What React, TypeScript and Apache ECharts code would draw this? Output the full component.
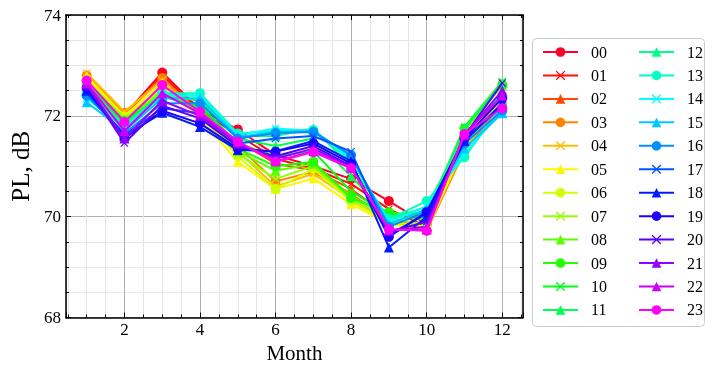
import React, { useEffect, useRef } from "react";
import * as echarts from "echarts";

const months = [1, 2, 3, 4, 5, 6, 7, 8, 9, 10, 11, 12];
const seriesNames = ["00","01","02","03","04","05","06","07","08","09","10","11","12","13","14","15","16","17","18","19","20","21","22","23"];
const markers = ["o","x","^","o","x","^","o","x","^","o","x","^","^","o","x","^","o","x","^","o","x","^","^","o"];

const s00 = [72.70, 72.02, 72.86, 72.12, 71.73, 71.22, 71.00, 70.75, 70.31, 69.85, 71.55, 72.40];
const s01 = [72.72, 72.00, 72.80, 72.10, 71.62, 71.15, 70.95, 70.65, 70.15, 69.80, 71.50, 72.35];
const s02 = [72.75, 72.03, 72.75, 72.05, 71.50, 71.05, 70.92, 70.55, 70.00, 69.75, 71.40, 72.30];
const s03 = [72.80, 72.06, 72.75, 72.05, 71.40, 70.70, 70.89, 70.45, 69.95, 69.72, 71.30, 72.25];
const s04 = [72.85, 72.08, 72.70, 72.00, 71.30, 70.60, 70.85, 70.35, 69.90, 69.75, 71.35, 72.30];
const s05 = [72.78, 72.00, 72.65, 71.95, 71.09, 70.55, 70.76, 70.25, 69.85, 69.75, 71.40, 72.35];
const s06 = [72.72, 71.98, 72.55, 72.00, 71.20, 70.55, 70.95, 70.30, 69.90, 69.80, 71.45, 72.40];
const s07 = [72.68, 71.95, 72.50, 72.05, 71.25, 70.75, 71.00, 70.35, 69.95, 69.85, 71.55, 72.50];
const s08 = [72.65, 71.92, 72.45, 72.10, 71.30, 70.91, 71.05, 70.40, 70.00, 69.95, 71.70, 72.60];
const s09 = [72.62, 71.90, 72.40, 72.15, 71.35, 71.00, 71.09, 70.37, 70.09, 70.00, 71.75, 72.62];
const s10 = [72.60, 71.88, 72.38, 72.20, 71.45, 71.20, 71.30, 70.50, 70.05, 70.05, 71.78, 72.68];
const s11 = [72.55, 71.85, 72.40, 72.30, 71.55, 71.40, 71.55, 70.80, 70.00, 70.10, 71.75, 72.65];
const s12 = [72.50, 71.80, 72.42, 72.40, 71.60, 71.60, 71.75, 71.00, 69.95, 70.20, 71.60, 72.45];
const s13 = [72.45, 71.78, 72.45, 72.45, 71.65, 71.70, 71.72, 71.10, 69.95, 70.31, 71.18, 72.20];
const s14 = [72.35, 71.75, 72.40, 72.40, 71.62, 71.75, 71.70, 71.15, 69.90, 70.20, 71.25, 72.10];
const s15 = [72.27, 71.70, 72.35, 72.35, 71.58, 71.68, 71.70, 71.20, 69.85, 70.15, 71.35, 72.05];
const s16 = [72.40, 71.65, 72.25, 72.25, 71.55, 71.66, 71.68, 71.22, 69.80, 70.10, 71.45, 72.10];
const s17 = [72.45, 71.62, 72.15, 72.05, 71.45, 71.55, 71.60, 71.29, 69.65, 70.05, 71.50, 72.20];
const s18 = [72.50, 71.60, 72.06, 71.78, 71.32, 71.30, 71.50, 71.10, 69.39, 70.00, 71.50, 72.25];
const s19 = [72.55, 71.55, 72.10, 71.85, 71.35, 71.29, 71.45, 71.05, 69.60, 70.09, 71.55, 72.35];
const s20 = [72.60, 71.46, 72.20, 71.95, 71.40, 71.20, 71.40, 71.00, 69.70, 69.90, 71.60, 72.65];
const s21 = [72.62, 71.55, 72.30, 72.00, 71.45, 71.15, 71.35, 70.98, 69.72, 69.80, 71.62, 72.50];
const s22 = [72.65, 71.70, 72.45, 72.05, 71.48, 71.10, 71.30, 70.97, 69.74, 69.75, 71.63, 72.40];
const s23 = [72.70, 71.88, 72.61, 72.08, 71.49, 71.09, 71.28, 70.96, 69.75, 69.72, 71.64, 72.15];

const seriesValues = [s00, s01, s02, s03, s04, s05, s06, s07, s08, s09, s10, s11, s12, s13, s14, s15, s16, s17, s18, s19, s20, s21, s22, s23];

const yTicks = [68, 70, 72, 74];
const xTicks = [2, 4, 6, 8, 10, 12];

// gist_rainbow colormap stops
const rainbowStops: [number, number, number, number][] = [
  [0.0, 1, 0, 0.16],
  [0.03, 1, 0, 0],
  [0.215, 1, 1, 0],
  [0.4, 0, 1, 0],
  [0.586, 0, 1, 1],
  [0.77, 0, 0, 1],
  [0.954, 1, 0, 1],
  [1.0, 1, 0, 0.75],
];
function rainbow(t: number): string {
  for (let i = 1; i < rainbowStops.length; i++) {
    const a = rainbowStops[i - 1];
    const b = rainbowStops[i];
    if (t <= b[0]) {
      const f = (t - a[0]) / (b[0] - a[0]);
      const c = [1, 2, 3].map((k) => Math.round((a[k] + (b[k] - a[k]) * f) * 255));
      return `rgb(${c[0]},${c[1]},${c[2]})`;
    }
  }
  return "rgb(255,0,191)";
}

const FONT = "'Liberation Serif', 'Times New Roman', serif";
const XPATH = "path://M0,1L1,0L5,4L9,0L10,1L6,5L10,9L9,10L5,6L1,10L0,9L4,5Z";

function symbolFor(m: string) {
  if (m === "o") return { symbol: "circle", size: 10 };
  if (m === "^") return { symbol: "triangle", size: 10 };
  return { symbol: XPATH, size: 8 };
}

export default function App() {
  const ref = useRef<HTMLDivElement>(null);
  useEffect(() => {
    if (!ref.current) return;
    const chart = echarts.init(ref.current, null, { renderer: "svg" });
    const colors = seriesNames.map((_, i) => rainbow(i / 24));
    const series = seriesNames.map((name, i) => {
      const sym = symbolFor(markers[i]);
      return {
        name,
        type: "line",
        data: months.map((m, j) => [m, seriesValues[i][j]]),
        symbol: sym.symbol,
        symbolSize: sym.size,
        showAllSymbol: true,
        lineStyle: { color: colors[i], width: 2 },
        itemStyle: { color: colors[i] },
        emphasis: { disabled: true },
        z: 2 + i * 0.01,
        xAxisIndex: 0,
        yAxisIndex: 0,
      };
    });
    const axisLineStyle = { show: true, lineStyle: { color: "#000", width: 1.5 } };
    const tickStyle = { show: true, inside: true, length: 5, lineStyle: { color: "#000", width: 1 } };
    const minorTickStyle = { show: true, splitNumber: 4, length: 3, lineStyle: { color: "#000", width: 1 } };
    const legendCommon = {
      orient: "vertical",
      itemWidth: 35,
      itemHeight: 12,
      itemGap: 7.45,
      selectedMode: false,
      textStyle: { fontFamily: FONT, fontSize: 16, color: "#000", lineHeight: 16, padding: [0, 0, 0, 8] },
    };
    const xCommon = {
      type: "value",
      min: 0.45,
      max: 12.55,
      splitNumber: 6,
      minInterval: 2,
      maxInterval: 2,
    };
    chart.setOption({
      animation: false,
      grid: { left: 58, top: 15, right: 191, bottom: 56.5, containLabel: false },
      xAxis: [
        {
          ...xCommon,
          position: "bottom",
          name: "Month",
          nameLocation: "middle",
          nameGap: 23,
          nameTextStyle: { fontFamily: FONT, fontSize: 21, color: "#000" },
          axisLine: axisLineStyle,
          axisTick: tickStyle,
          minorTick: minorTickStyle,
          axisLabel: {
            fontFamily: FONT,
            fontSize: 17,
            color: "#000",
            margin: 3,
            showMinLabel: false,
            showMaxLabel: false,
            formatter: (v: number) => {
              const r = Math.round(v);
              return Math.abs(v - r) < 1e-6 && xTicks.includes(r) ? String(r) : "";
            },
          },
          splitLine: { show: true, lineStyle: { color: "#b0b0b0", width: 1 } },
          minorSplitLine: { show: true, lineStyle: { color: "#e6e6e6", width: 1 } },
        },
        {
          ...xCommon,
          position: "top",
          axisLine: axisLineStyle,
          axisTick: tickStyle,
          minorTick: minorTickStyle,
          axisLabel: { show: false },
          splitLine: { show: false },
        },
      ],
      yAxis: [
        {
          type: "value",
          min: 68,
          max: 74,
          interval: 2,
          position: "left",
          name: "PL, dB",
          nameLocation: "middle",
          nameGap: 31,
          nameTextStyle: { fontFamily: FONT, fontSize: 25, color: "#000" },
          axisLine: axisLineStyle,
          axisTick: tickStyle,
          minorTick: minorTickStyle,
          axisLabel: {
            fontFamily: FONT,
            fontSize: 17,
            color: "#000",
            margin: 5,
            formatter: (v: number) => (yTicks.includes(v) ? String(v) : ""),
          },
          splitLine: { show: true, lineStyle: { color: "#b0b0b0", width: 1 } },
          minorSplitLine: { show: true, lineStyle: { color: "#e6e6e6", width: 1 } },
        },
        {
          type: "value",
          min: 68,
          max: 74,
          interval: 2,
          position: "right",
          axisLine: axisLineStyle,
          axisTick: tickStyle,
          minorTick: minorTickStyle,
          axisLabel: { show: false },
          splitLine: { show: false },
        },
      ],
      legend: [
        { ...legendCommon, left: 537, top: 39, data: seriesNames.slice(0, 12) },
        { ...legendCommon, left: 633, top: 39, data: seriesNames.slice(12) },
      ],
      graphic: [
        {
          type: "rect",
          shape: { x: 532.5, y: 38.5, width: 172, height: 288, r: 4 },
          style: { fill: "none", stroke: "#cccccc", lineWidth: 1 },
          z: 0,
        },
      ],
      series,
    });
    return () => chart.dispose();
  }, []);
  return <div ref={ref} style={{ position: "fixed", left: 0, top: 0, width: 714, height: 374 }} />;
}
